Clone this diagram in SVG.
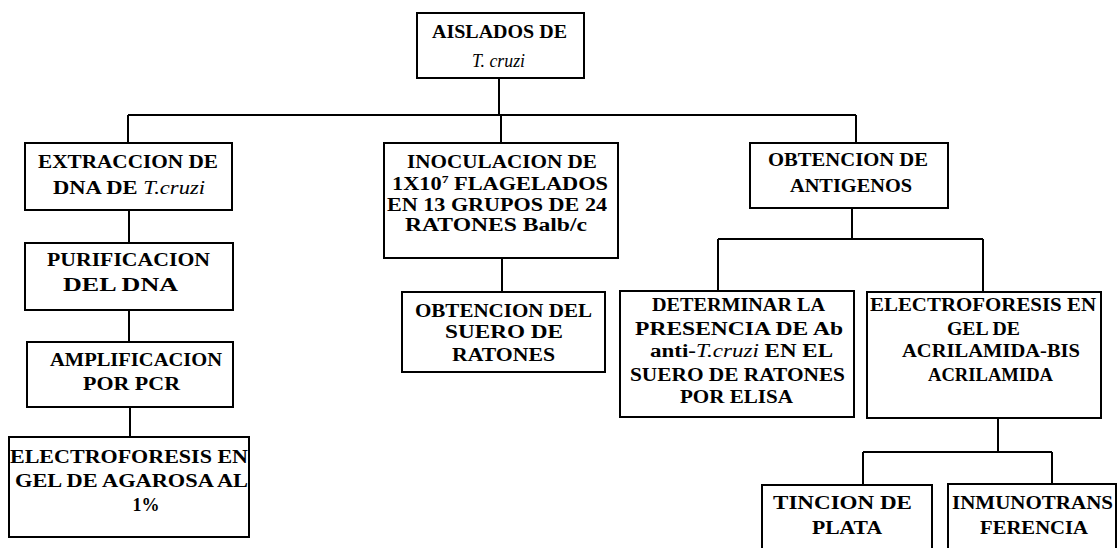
<svg xmlns="http://www.w3.org/2000/svg" width="1118" height="548" viewBox="0 0 1118 548">
<style>
.box{fill:#fff;stroke:#000;stroke-width:2}
.ln{stroke:#000;stroke-width:2;fill:none}
text{font-family:"Liberation Serif","Times New Roman",serif;font-size:18px;font-weight:bold;text-anchor:middle;fill:#000}
.it{font-style:italic;font-weight:normal}
</style>
<rect width="1118" height="548" fill="#fff"/>
<g id="connectors">
<path class="ln" d="M499 78V115M128 115H856M128 115V143M501 115V143M856 115V143"/>
<path class="ln" d="M129 210V243M129 310V342M130 407V437"/>
<path class="ln" d="M502 258V292"/>
<path class="ln" d="M852 208V239M718 239H983M718 239V291M983 239V292"/>
<path class="ln" d="M998 418V452M863 452H1052M863 452V485M1052 452V484"/>
</g>
<g id="n_aislados">
<rect class="box" x="417" y="13" width="167" height="65"/>
<text x="499.5" y="38" textLength="135" lengthAdjust="spacingAndGlyphs">AISLADOS DE</text>
<text x="498.5" y="67" class="it" textLength="53" lengthAdjust="spacingAndGlyphs">T. cruzi</text>
</g>
<g id="n_extraccion">
<rect class="box" x="25" y="143" width="207" height="67"/>
<text x="128" y="168" textLength="180" lengthAdjust="spacingAndGlyphs">EXTRACCION DE</text>
<text x="129" y="194" textLength="152" lengthAdjust="spacingAndGlyphs">DNA DE <tspan class="it">T.cruzi</tspan></text>
</g>
<g id="n_purificacion">
<rect class="box" x="25" y="243" width="208" height="67"/>
<text x="128.5" y="266" textLength="163" lengthAdjust="spacingAndGlyphs">PURIFICACION</text>
<text x="120.5" y="291" textLength="115" lengthAdjust="spacingAndGlyphs">DEL DNA</text>
</g>
<g id="n_amplificacion">
<rect class="box" x="27" y="342" width="206" height="65"/>
<text x="136" y="366" textLength="172" lengthAdjust="spacingAndGlyphs">AMPLIFICACION</text>
<text x="131.5" y="390" textLength="97" lengthAdjust="spacingAndGlyphs">POR PCR</text>
</g>
<g id="n_electro_agarosa">
<rect class="box" x="9" y="437" width="240" height="100"/>
<text x="129" y="463" textLength="238" lengthAdjust="spacingAndGlyphs">ELECTROFORESIS EN</text>
<text x="131.5" y="487" textLength="233" lengthAdjust="spacingAndGlyphs">GEL DE AGAROSA AL</text>
<text x="146" y="511">1%</text>
</g>
<g id="n_inoculacion">
<rect class="box" x="384" y="143" width="234" height="115"/>
<text x="502" y="168" textLength="190" lengthAdjust="spacingAndGlyphs">INOCULACION DE</text>
<text x="500" y="190" textLength="216" lengthAdjust="spacingAndGlyphs">1X10<tspan font-size="11" dy="-7">7</tspan><tspan dy="7"> FLAGELADOS</tspan></text>
<text x="497" y="211" textLength="220" lengthAdjust="spacingAndGlyphs">EN 13 GRUPOS DE 24</text>
<text x="496" y="231" textLength="182" lengthAdjust="spacingAndGlyphs">RATONES Balb/c</text>
</g>
<g id="n_suero">
<rect class="box" x="402" y="292" width="203" height="80"/>
<text x="503.5" y="317" textLength="177" lengthAdjust="spacingAndGlyphs">OBTENCION DEL</text>
<text x="504" y="338" textLength="118" lengthAdjust="spacingAndGlyphs">SUERO DE</text>
<text x="503.5" y="361" textLength="103" lengthAdjust="spacingAndGlyphs">RATONES</text>
</g>
<g id="n_antigenos">
<rect class="box" x="750" y="143" width="198" height="65"/>
<text x="848" y="166" textLength="160" lengthAdjust="spacingAndGlyphs">OBTENCION DE</text>
<text x="851" y="192" textLength="122" lengthAdjust="spacingAndGlyphs">ANTIGENOS</text>
</g>
<g id="n_determinar">
<rect class="box" x="620" y="291" width="234" height="126"/>
<text x="738.5" y="311" textLength="173" lengthAdjust="spacingAndGlyphs">DETERMINAR LA</text>
<text x="739" y="335" textLength="208" lengthAdjust="spacingAndGlyphs">PRESENCIA DE Ab</text>
<text x="741.5" y="357" textLength="183" lengthAdjust="spacingAndGlyphs">anti-<tspan class="it">T.cruzi</tspan> EN EL</text>
<text x="737.5" y="381" textLength="215" lengthAdjust="spacingAndGlyphs">SUERO DE RATONES</text>
<text x="736.5" y="403" textLength="113" lengthAdjust="spacingAndGlyphs">POR ELISA</text>
</g>
<g id="n_electro_acrilamida">
<rect class="box" x="867" y="292" width="234" height="126"/>
<text x="983" y="311" textLength="226" lengthAdjust="spacingAndGlyphs">ELECTROFORESIS EN</text>
<text x="983.5" y="335" textLength="73" lengthAdjust="spacingAndGlyphs">GEL DE</text>
<text x="991" y="357" textLength="178" lengthAdjust="spacingAndGlyphs">ACRILAMIDA-BIS</text>
<text x="990.5" y="381" textLength="125" lengthAdjust="spacingAndGlyphs">ACRILAMIDA</text>
</g>
<g id="n_tincion">
<rect class="box" x="762" y="485" width="170" height="80"/>
<text x="842.5" y="509" textLength="139" lengthAdjust="spacingAndGlyphs">TINCION DE</text>
<text x="847" y="534" textLength="70" lengthAdjust="spacingAndGlyphs">PLATA</text>
</g>
<g id="n_inmuno">
<rect class="box" x="948" y="484" width="168" height="80"/>
<text x="1032.5" y="509" textLength="161" lengthAdjust="spacingAndGlyphs">INMUNOTRANS</text>
<text x="1034" y="534" textLength="108" lengthAdjust="spacingAndGlyphs">FERENCIA</text>
</g>
</svg>
